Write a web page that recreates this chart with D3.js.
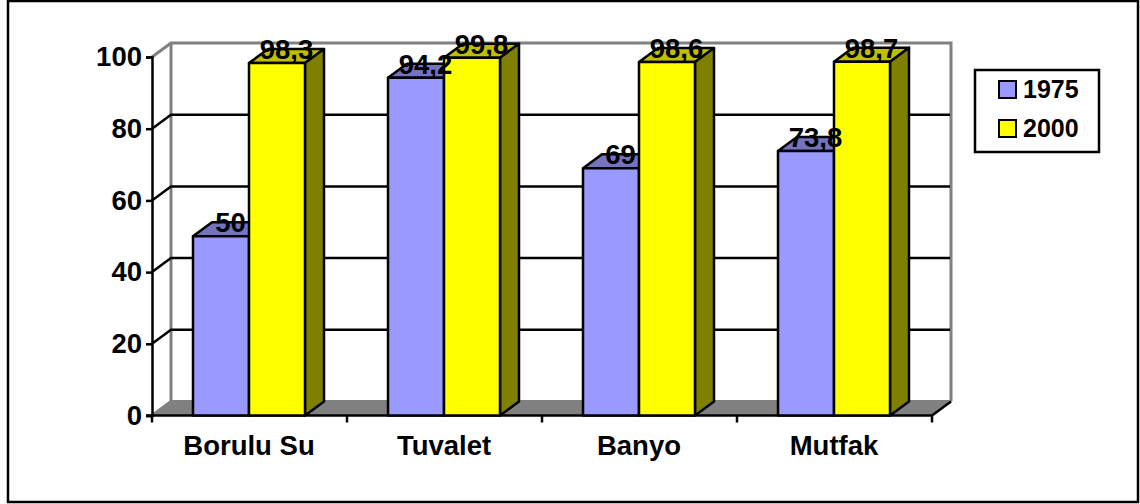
<!DOCTYPE html>
<html><head><meta charset="utf-8">
<script src="https://cdn.jsdelivr.net/npm/d3@7"></script>
<style>html,body{margin:0;padding:0;background:#fff}svg{display:block}text{font-family:"Liberation Sans",Arial,sans-serif;font-weight:bold;fill:#000}</style>
</head><body><svg id="c" width="1140" height="504"></svg>
<script>
const categories=["Borulu Su","Tuvalet","Banyo","Mutfak"];
const seriesNames=["1975","2000"];
const values1975=[50,94.2,69,73.8];
const values2000=[98.3,99.8,98.6,98.7];
const labels1975=["50","94,2","69","73,8"];
const labels2000=["98,3","99,8","98,6","98,7"];
const yTicks=[0,20,40,60,80,100];
const colors={"1975":{front:"#9999ff",top:"#7373bf",side:"#4d4d80"},"2000":{front:"#ffff00",top:"#bfbf00",side:"#808000"}};

const svg=d3.select("#c");
const dx=19,dy=-14;
const x=d3.scaleBand().domain(categories).range([152,932]);
const y=d3.scaleLinear().domain([0,100]).range([415.5,57]);
const inner=d3.scaleBand().domain(seriesNames).range([41,153]);
const line=d3.line();
const BW=2.5, FS="27.5px";
const y0=y(0);

// outer frame
svg.append("rect").attr("x",8).attr("y",1).attr("width",1130).attr("height",501).attr("fill","#fff").attr("stroke","#000").attr("stroke-width",2.5);

// floor
svg.append("path").attr("d",line([[152,y0],[171,y0+dy],[951,y0+dy],[932,y0]])+"Z").attr("fill","#808080").attr("stroke","none");
// walls
svg.append("path").attr("d",line([[152,y(100)],[171,y(100)+dy],[951,y(100)+dy],[951,y0+dy]])).attr("fill","none").attr("stroke","#808080").attr("stroke-width",3);
svg.append("path").attr("d",line([[171,y(100)+dy],[171,y0+dy],[951,y0+dy]])).attr("fill","none").attr("stroke","#808080").attr("stroke-width",3);
svg.append("path").attr("d",line([[152,y0],[171,y0+dy]])).attr("fill","none").attr("stroke","#808080").attr("stroke-width",3);

// gridlines
yTicks.filter(t=>t>0&&t<100).forEach(t=>{
  svg.append("path").attr("d",line([[152,y(t)],[171,y(t)+dy],[950,y(t)+dy]])).attr("fill","none").attr("stroke","#000").attr("stroke-width",BW);
});
svg.append("path").attr("d",line([[932,y0],[951,y0+dy]])).attr("fill","none").attr("stroke","#000").attr("stroke-width",BW);

// axes
const yAxis=d3.axisLeft(y).tickValues(yTicks).tickSize(6).tickPadding(4);
const gy=svg.append("g").attr("transform","translate(152,0)").call(yAxis);
gy.selectAll("path,line").attr("stroke","#000").attr("stroke-width",BW);
gy.selectAll("text").style("font-size",FS).attr("fill","#000");
svg.append("path").attr("d",line([[146,y0],[932,y0]])).attr("stroke","#000").attr("stroke-width",BW).attr("fill","none");
d3.range(0,5).forEach(i=>{
  const tx=152+i*x.step();
  svg.append("path").attr("d",line([[tx,y0],[tx,y0+7]])).attr("stroke","#000").attr("stroke-width",BW);
});
svg.selectAll(".cat").data(categories).join("text").attr("class","cat")
  .attr("x",d=>x(d)+x.bandwidth()/2-0.5).attr("y",455).attr("text-anchor","middle").style("font-size",FS).text(d=>d);

// bars
function bar(cat,s,v){
  const x0=x(cat)+inner(s),x1=x0+inner.bandwidth(),yt=y(v),yb=y(0),c=colors[s];
  const g=svg.append("g").attr("stroke","#000").attr("stroke-width",BW).attr("stroke-linejoin","round");
  g.append("path").attr("d",line([[x0,yt],[x0+dx,yt+dy],[x1+dx,yt+dy],[x1,yt]])+"Z").attr("fill",c.top);
  g.append("path").attr("d",line([[x1,yt],[x1+dx,yt+dy],[x1+dx,yb+dy],[x1,yb]])+"Z").attr("fill",c.side);
  g.append("rect").attr("x",x0).attr("y",yt).attr("width",x1-x0).attr("height",yb-yt).attr("fill",c.front);
}
categories.forEach((c,i)=>{bar(c,"1975",values1975[i]);bar(c,"2000",values2000[i]);});

// data labels
function dataLabels(s,vals,labs){
  categories.forEach((c,i)=>{
    svg.append("text").attr("x",x(c)+inner(s)+inner.bandwidth()/2+dx/2).attr("y",y(vals[i])-4)
      .attr("text-anchor","middle").style("font-size",FS).text(labs[i]);
  });
}
dataLabels("1975",values1975,labels1975);
dataLabels("2000",values2000,labels2000);

// legend
svg.append("rect").attr("x",975).attr("y",70).attr("width",124).attr("height",82).attr("fill","#fff").attr("stroke","#000").attr("stroke-width",2.5);
seriesNames.forEach((s,i)=>{
  const ly=89.5+i*39;
  svg.append("rect").attr("x",999).attr("y",ly-8.5).attr("width",17).attr("height",17).attr("fill",colors[s].front).attr("stroke","#000").attr("stroke-width",2);
  svg.append("text").attr("x",1023).attr("y",ly+8.5).style("font-size","25px").text(s);
});
</script></body></html>
